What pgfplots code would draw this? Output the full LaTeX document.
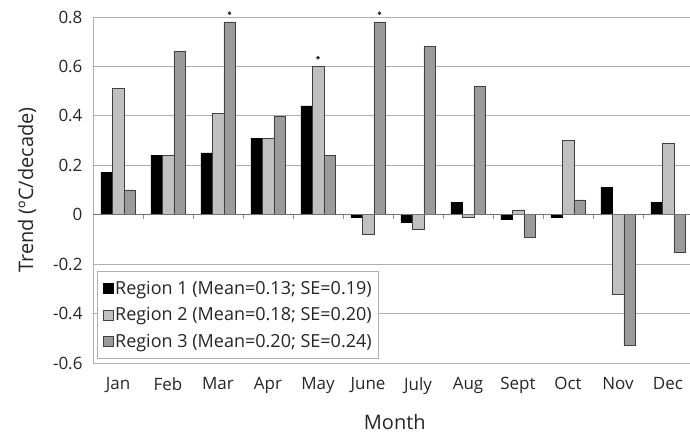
\documentclass[border=0pt]{standalone}
\usepackage{fontspec}
\setmainfont{Open Sans}
\usepackage{pgfplots}
\usepackage{pgfplotstable}
\pgfplotsset{compat=1.18}

\definecolor{regA}{RGB}{0,0,0}
\definecolor{regB}{RGB}{192,192,192}
\definecolor{regC}{RGB}{155,155,155}
\definecolor{gridgray}{RGB}{175,175,175}

% Monthly temperature trends (degC per decade) for three regions
\pgfplotstableread{
x  r1     r2     r3
0  0.17   0.51   0.10
1  0.24   0.24   0.66
2  0.25   0.41   0.78
3  0.31   0.31   0.40
4  0.44   0.60   0.24
5  -0.01  -0.08  0.78
6  -0.03  -0.06  0.68
7  0.05   -0.01  0.52
8  -0.02  0.02   -0.09
9  -0.01  0.30   0.06
10 0.11   -0.32  -0.53
11 0.05   0.29   -0.15
}\trendtable

\begin{document}
\begin{tikzpicture}[x=1pt,y=1pt]
\useasboundingbox (0,0) rectangle (690,434);
\begin{axis}[
  at={(93pt,71pt)}, anchor=south west,
  scale only axis, width=600pt, height=346pt,
  xmin=-0.5, xmax=11.5, ymin=-0.6, ymax=0.8,
  axis x line*=bottom, axis y line*=left,
  axis line style={gridgray, line width=0.9pt},
  ytick={-0.6,-0.4,...,0.81},
  ymajorgrids, grid style={gridgray, line width=0.9pt},
  xtick={0,...,11},
  xticklabels={Jan,Feb,Mar,Apr,May,June,July,Aug,Sept,Oct,Nov,Dec},
  major tick length=0pt,
  tick label style={font=\fontsize{17}{20}\selectfont, text=black!85},
  xticklabel style={yshift=-11pt},
  yticklabel style={xshift=-7pt},
  /pgf/number format/assume math mode=true,
  /pgf/number format/fixed, /pgf/number format/precision=1,
  xlabel={Month},
  ylabel={Trend (ºC/decade)},
  every axis x label/.style={at={(axis description cs:0.503,-0.171)}, anchor=center,
    font=\fontsize{20}{24}\selectfont, text=black!85},
  every axis y label/.style={at={(axis description cs:-0.11,0.5)}, rotate=90, anchor=center,
    font=\fontsize{20}{24}\selectfont, text=black!85},
  legend style={at={(axis description cs:0.007,0.013)}, anchor=south west,
    draw=gridgray, line width=0.9pt, fill=white,
    font=\fontsize{18}{21}\selectfont, text=black!85,
    inner xsep=5pt, inner ysep=7pt, row sep=8pt},
  legend cell align=left,
  legend image code/.code={\draw[#1, line width=0.5pt] (0pt,-5pt) rectangle (10pt,5pt);},
  clip=false,
]
\addplot[ybar, bar width=11.5pt, bar shift=-11.5pt, fill=regA, draw=black, line width=0.5pt]
  table[x=x, y=r1] {\trendtable};
\addlegendentry{Region 1 (Mean=0.13; SE=0.19)}
\addplot[ybar, bar width=11.5pt, bar shift=0pt, fill=regB, draw=black!75, line width=0.5pt]
  table[x=x, y=r2] {\trendtable};
\addlegendentry{Region 2 (Mean=0.18; SE=0.20)}
\addplot[ybar, bar width=11.5pt, bar shift=11.5pt, fill=regC, draw=black!75, line width=0.5pt]
  table[x=x, y=r3] {\trendtable};
\addlegendentry{Region 3 (Mean=0.20; SE=0.24)}
% significance markers
\addplot[only marks, mark=*, mark size=1.6pt, black!80, forget plot]
  coordinates {(2.23,0.815) (4,0.635) (5.23,0.815)};
% zero line with category separators
\draw[black!55, line width=0.9pt] (axis cs:-0.5,0) -- (axis cs:11.5,0);
\pgfplotsinvokeforeach{0.5,1.5,...,10.5}{
  \draw[black!45, line width=0.7pt] (axis cs:#1,0) -- ++(0pt,-4pt);
}
\end{axis}
\end{tikzpicture}
\end{document}
